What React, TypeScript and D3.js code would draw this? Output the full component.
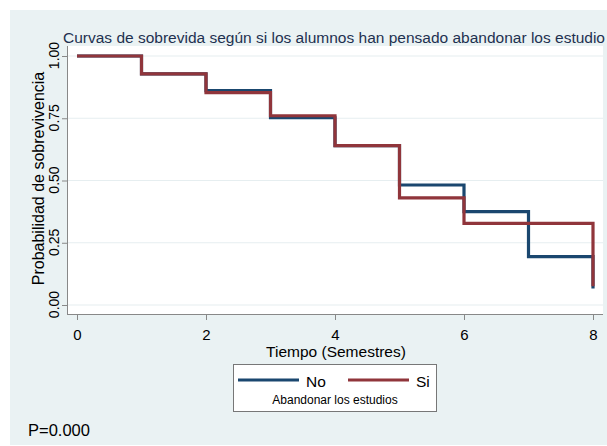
import React, { useEffect, useRef } from "react";
import * as d3 from "d3";

const times = [0, 1, 2, 3, 4, 5, 6, 7, 8];
const survNo = [1, 0.928, 0.861, 0.752, 0.64, 0.482, 0.375, 0.194, 0.066];
const survSi = [1, 0.928, 0.853, 0.76, 0.64, 0.43, 0.328, 0.328, 0.075];
const xTicks = [0, 2, 4, 6, 8];
const yTicks = [0, 0.25, 0.5, 0.75, 1];
const seriesNames = ["No", "Si"];
const seriesColors = ["#1a476f", "#90353b"];

const W = 607;
const H = 446;
const FONT = "'Liberation Sans', Arial, sans-serif";

export default function App() {
  const ref = useRef<SVGSVGElement | null>(null);

  useEffect(() => {
    const svg = d3.select(ref.current);
    svg.selectAll("*").remove();

    const bg = "#eaf2f3";
    svg.append("rect").attr("x", 10).attr("y", 10).attr("width", W - 10).attr("height", H - 11).attr("fill", bg);

    const plotL = 67, plotR = 603, plotT = 46, plotB = 314;
    const x = d3.scaleLinear().domain([0, 8]).range([77, 593]);
    const y = d3.scaleLinear().domain([0, 1]).range([305, 56]);

    svg.append("rect").attr("x", plotL).attr("y", plotT).attr("width", plotR - plotL).attr("height", plotB - plotT).attr("fill", "#ffffff");

    // gridlines
    svg.append("g").selectAll("line").data(yTicks).join("line")
      .attr("x1", plotL).attr("x2", plotR)
      .attr("y1", (d) => y(d)).attr("y2", (d) => y(d))
      .attr("stroke", "#e6eef0").attr("stroke-width", 1.2);

    // lines
    const line = d3.line<number>()
      .x((_, i) => x(times[i]))
      .y((d) => y(d))
      .curve(d3.curveStepAfter);
    [survNo, survSi].forEach((s, k) => {
      svg.append("path").datum(s).attr("d", line).attr("fill", "none")
        .attr("stroke", seriesColors[k]).attr("stroke-width", 3.2)
        .attr("stroke-linejoin", "miter");
    });

    // axes
    const xAxis = d3.axisBottom(x).tickValues(xTicks).tickFormat(d3.format("d")).tickSize(6).tickPadding(4);
    const gx = svg.append("g").attr("transform", `translate(0,${plotB})`).call(xAxis);
    gx.select(".domain").attr("d", `M${plotL},0.5H${plotR}`).attr("stroke", "#888");
    gx.selectAll(".tick line").attr("stroke", "#888");
    gx.selectAll(".tick text").attr("font-family", FONT).attr("font-size", 15).attr("fill", "#000")
      .attr("y", 26).attr("dy", null);

    const yAxis = d3.axisLeft(y).tickValues(yTicks).tickFormat(d3.format(".2f")).tickSize(5).tickPadding(3);
    const gy = svg.append("g").attr("transform", `translate(${plotL},0)`).call(yAxis);
    gy.select(".domain").attr("d", `M0.5,${plotT}V${plotB}`).attr("stroke", "#888");
    gy.selectAll(".tick line").attr("stroke", "#888");
    gy.selectAll(".tick text")
      .attr("font-family", FONT).attr("font-size", 14).attr("fill", "#000")
      .attr("x", null).attr("dy", null)
      .attr("text-anchor", "middle")
      .attr("transform", "translate(-8,-1) rotate(-90)");

    // axis titles
    svg.append("text").attr("x", 336).attr("y", 357).attr("text-anchor", "middle")
      .attr("font-family", FONT).attr("font-size", 15.5).attr("fill", "#000").text("Tiempo (Semestres)");
    svg.append("text").attr("transform", "translate(44,178.5) rotate(-90)").attr("text-anchor", "middle")
      .attr("font-family", FONT).attr("font-size", 16).attr("fill", "#000").text("Probabilidad de sobrevivencia");

    // title
    svg.append("text").attr("x", 63).attr("y", 43)
      .attr("font-family", FONT).attr("font-size", 15.5).attr("fill", "#1e3150")
      .text("Curvas de sobrevida según si los alumnos han pensado abandonar los estudio");

    // legend
    const lg = svg.append("g");
    lg.append("rect").attr("x", 233.5).attr("y", 364.5).attr("width", 203).attr("height", 47)
      .attr("fill", "#fff").attr("stroke", "#777").attr("stroke-width", 1);
    const lx = [238, 348];
    seriesNames.forEach((n, k) => {
      lg.append("line").attr("x1", lx[k]).attr("x2", lx[k] + 61).attr("y1", 380).attr("y2", 380)
        .attr("stroke", seriesColors[k]).attr("stroke-width", 3.2);
      lg.append("text").attr("x", lx[k] + 68).attr("y", 386.5)
        .attr("font-family", FONT).attr("font-size", 15.5).attr("fill", "#000").text(n);
    });
    lg.append("text").attr("x", 335).attr("y", 404).attr("text-anchor", "middle")
      .attr("font-family", FONT).attr("font-size", 12).attr("fill", "#000").text("Abandonar los estudios");

    svg.append("text").attr("x", 28).attr("y", 436)
      .attr("font-family", FONT).attr("font-size", 16.5).attr("fill", "#000").text("P=0.000");
  }, []);

  return (
    <svg ref={ref} width={W} height={H}
      style={{ position: "absolute", left: 0, top: 0, background: "#fff" }} />
  );
}
